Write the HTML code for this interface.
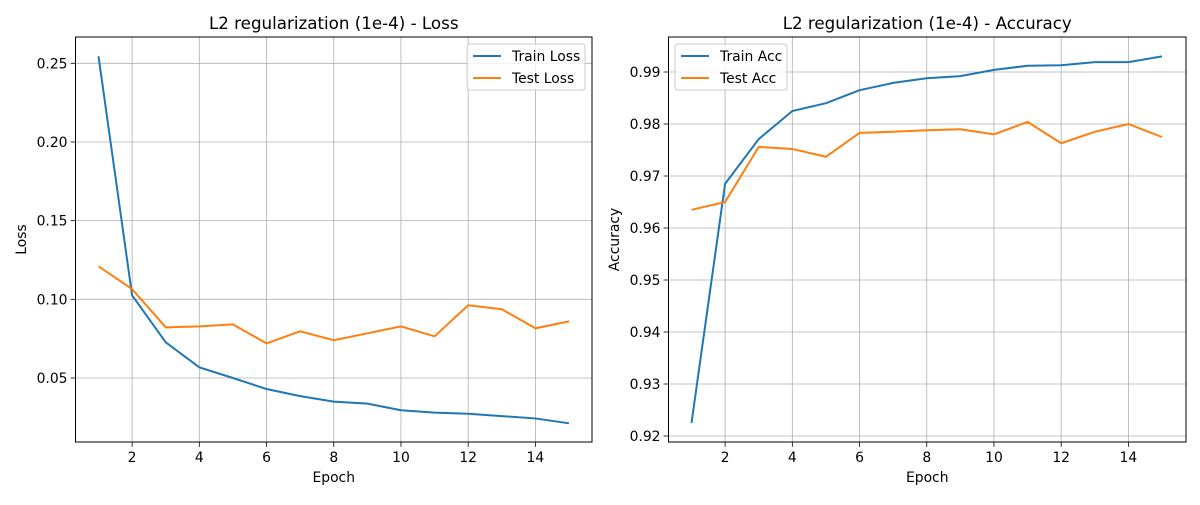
<!DOCTYPE html>
<html><head><meta charset="utf-8"><style>
body{margin:0;background:#fff;font-family:"Liberation Sans","DejaVu Sans",sans-serif}
svg text{font-family:"DejaVu Sans","Liberation Sans",sans-serif;fill:#000}
</style></head><body>
<svg id="c" width="1200" height="500" xmlns="http://www.w3.org/2000/svg"></svg>
<script>
const epochs=[1,2,3,4,5,6,7,8,9,10,11,12,13,14,15];
const trainLoss=[0.2545,0.1025,0.0727,0.0568,0.0500,0.0430,0.0385,0.0350,0.0337,0.0295,0.0280,0.0273,0.0258,0.0243,0.0212];
const testLoss=[0.121,0.1065,0.0822,0.0828,0.0841,0.0720,0.0797,0.0740,0.0784,0.0828,0.0765,0.0962,0.0937,0.0816,0.0860];
const trainAcc=[0.9225,0.9685,0.9771,0.9825,0.9840,0.9865,0.9879,0.9888,0.9892,0.9904,0.9912,0.9913,0.9919,0.9919,0.9930];
const testAcc=[0.9635,0.9650,0.9756,0.9752,0.9737,0.9783,0.9785,0.9788,0.9790,0.9780,0.9804,0.9763,0.9785,0.9800,0.9775];
const xTicks=[2,4,6,8,10,12,14];
const lossTicks=[0.05,0.10,0.15,0.20,0.25];
const accTicks=[0.92,0.93,0.94,0.95,0.96,0.97,0.98,0.99];
const svg=document.getElementById('c');
const NS='http://www.w3.org/2000/svg';
function mk(tag,at,txt){const e=document.createElementNS(NS,tag);for(const k in at)e.setAttribute(k,at[k]);if(txt!==undefined)e.textContent=txt;svg.appendChild(e);return e;}
function panel(o){
  const L=o.left,R=o.right,T=37,B=442;
  const xs=e=>o.x1px+(e-1)*(o.x15px-o.x1px)/14;
  const ys=v=>o.y0px+(v-o.v0)*(o.y1px-o.y0px)/(o.v1-o.v0);
  xTicks.forEach(t=>{
    const g=mk('line',{x1:xs(t),x2:xs(t),y1:T,y2:B,stroke:'#b0b0b0','stroke-width':0.8});
    
    mk('line',{x1:xs(t),x2:xs(t),y1:B,y2:B+4.9,stroke:'#000','stroke-width':0.8});
    const tx=mk('text',{x:xs(t),y:B+20,'text-anchor':'middle','font-size':13.9},String(t));
    
  });
  o.ticks.forEach(t=>{
    const g=mk('line',{x1:L,x2:R,y1:ys(t),y2:ys(t),stroke:'#b0b0b0','stroke-width':0.8});
    
    mk('line',{x1:L-4.9,x2:L,y1:ys(t),y2:ys(t),stroke:'#000','stroke-width':0.8});
    const tx=mk('text',{x:L-8,y:ys(t)+5,'text-anchor':'end','font-size':13.9},t.toFixed(o.dec));
    
  });
  const cols=['#1f77b4','#ff7f0e'];
  o.series.forEach((s,i)=>{
    const p=mk('polyline',{points:epochs.map((e,j)=>xs(e)+','+ys(s[j])).join(' '),fill:'none',stroke:cols[i],'stroke-width':2});
    
  });
  const fr=mk('rect',{x:L,y:T,width:R-L,height:B-T,fill:'none',stroke:'#000','stroke-width':1});
  
  const ti=mk('text',{x:(L+R)/2,y:29,'text-anchor':'middle','font-size':16.7},o.title);
  
  const xl=mk('text',{x:(L+R)/2,y:482,'text-anchor':'middle','font-size':13.9},'Epoch');
  
  const yl=mk('text',{x:0,y:0,'text-anchor':'middle','font-size':13.9,transform:`translate(${o.ylx},${(T+B)/2}) rotate(-90)`},o.ylabel);
  
  const lg=mk('rect',{x:o.lgx,y:44,width:o.lgw,height:46,fill:'#fff','fill-opacity':0.8,stroke:'#ccc',rx:3});
  
  o.names.forEach((n,i)=>{
    const y=56+i*22;
    mk('line',{x1:o.lgx+6,x2:o.lgx+34,y1:y,y2:y,stroke:cols[i],'stroke-width':2});
    const t=mk('text',{x:o.lgx+45,y:y+5,'font-size':13.9},n);
    
  });
}
panel({left:75.5,right:592,x1px:98.5,x15px:569,v0:0.25,v1:0.05,y0px:63.3,y1px:378,ticks:lossTicks,dec:2,
  series:[trainLoss,testLoss],names:['Train Loss','Test Loss'],title:'L2 regularization (1e-4) - Loss',ylabel:'Loss',ylx:26,lgx:467,lgw:118});
panel({left:668.5,right:1186,x1px:691.5,x15px:1162,v0:0.99,v1:0.92,y0px:72,y1px:436,ticks:accTicks,dec:2,
  series:[trainAcc,testAcc],names:['Train Acc','Test Acc'],title:'L2 regularization (1e-4) - Accuracy',ylabel:'Accuracy',ylx:619,lgx:675,lgw:112});
</script>
</body></html>
